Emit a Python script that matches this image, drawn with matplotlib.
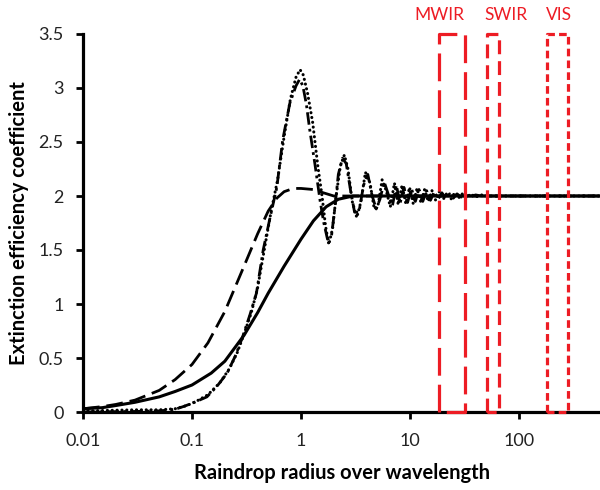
import matplotlib
matplotlib.use('Agg')
import matplotlib.pyplot as plt

plt.rcParams['font.family'] = ['Lato', 'DejaVu Sans']
plt.rcParams['lines.scale_dashes'] = False

# solid curve
x_solid = [0.01, 0.015, 0.02, 0.03, 0.05, 0.07, 0.1, 0.15, 0.2, 0.3, 0.4, 0.5, 0.7, 1.0, 1.3, 1.7, 2.2, 3.0, 4.0, 600]
y_solid = [0.03, 0.04, 0.06, 0.09, 0.14, 0.19, 0.25, 0.36, 0.47, 0.71, 0.92, 1.1, 1.35, 1.6, 1.77, 1.9, 1.97, 2.0, 2.0, 2.0]

# dashed curve
x_dash = [0.01, 0.015, 0.02, 0.03, 0.05, 0.07, 0.1, 0.14, 0.2, 0.3, 0.4, 0.5, 0.6, 0.7, 0.85, 1.0, 1.3, 1.6, 2.0, 3.0, 600]
y_dash = [0.03, 0.05, 0.07, 0.11, 0.2, 0.3, 0.44, 0.64, 0.93, 1.35, 1.65, 1.86, 1.98, 2.04, 2.07, 2.07, 2.06, 2.03, 2.0, 2.0, 2.0]

# dash-dot curve
x_dd = [0.01, 0.03, 0.05, 0.07, 0.083, 0.1, 0.137, 0.17, 0.21, 0.25, 0.29, 0.34, 0.39, 0.45, 0.52,
        0.6, 0.68, 0.79, 0.9, 0.97, 1.04, 1.12, 1.2, 1.34, 1.5, 1.62, 1.75, 1.9, 2.05, 2.2, 2.4,
        2.6, 2.85, 3.1, 3.4, 3.75, 4.1, 4.5, 4.9, 5.3, 5.8, 6.3, 6.9, 7.5, 8.1, 8.8, 9.5, 10.3,
        11.2, 12.1, 13.1, 14.2, 15.4, 16.7, 18.1, 19.6, 21.3, 23.1, 25, 27, 29.5, 32, 35, 40, 45, 600]
y_dd = [0.0, 0.005, 0.01, 0.025, 0.05, 0.08, 0.14, 0.24, 0.36, 0.52, 0.69, 0.9, 1.1, 1.5, 1.8,
        2.08, 2.52, 2.86, 3.02, 3.08, 3.02, 2.85, 2.62, 2.3, 1.95, 1.75, 1.6, 1.62, 1.9, 2.2, 2.35,
        2.3, 2.05, 1.85, 1.85, 2.1, 2.2, 2.0, 1.88, 1.97, 2.13, 2.02, 1.91, 2.1, 1.93, 2.08, 1.94, 2.07,
        1.95, 2.06, 1.95, 2.05, 1.96, 2.04, 1.97, 2.03, 1.98, 2.02, 1.98, 2.02, 1.99, 2.01, 1.99, 2.01, 2.0, 2.0]

# dotted curve
x_dot = [0.01, 0.03, 0.05, 0.07, 0.09, 0.11, 0.14, 0.18, 0.22, 0.26, 0.3, 0.35, 0.4, 0.46, 0.53,
         0.61, 0.7, 0.8, 0.9, 0.98, 1.05, 1.15, 1.28, 1.43, 1.56, 1.68, 1.8, 1.95, 2.1, 2.3, 2.5,
         2.7, 2.95, 3.25, 3.55, 3.9, 4.3, 4.7, 5.1, 5.55, 6.05, 6.6, 7.2, 7.8, 8.45, 9.15, 9.9, 10.7,
         11.6, 12.6, 13.6, 14.7, 15.9, 17.2, 18.6, 20.2, 21.9, 23.7, 25.7, 27.8, 30, 33, 36, 40, 45, 52, 600]
y_dot = [0.01, 0.02, 0.02, 0.03, 0.06, 0.1, 0.16, 0.27, 0.4, 0.55, 0.72, 0.92, 1.15, 1.5, 1.85,
         2.15, 2.55, 2.9, 3.1, 3.17, 3.12, 2.95, 2.68, 2.27, 2.0, 1.72, 1.55, 1.7, 2.0, 2.28, 2.38,
         2.25, 1.95, 1.8, 1.95, 2.22, 2.12, 1.88, 1.92, 2.15, 2.05, 1.9, 2.12, 1.92, 2.1, 1.93, 2.08, 1.93,
         2.07, 1.94, 2.06, 1.95, 2.05, 1.96, 2.04, 1.97, 2.03, 1.97, 2.03, 1.98, 2.02, 1.98, 2.02, 1.99, 2.01, 2.0, 2.0]

# spectral bands (x ranges) and where their labels sit
bands = ['MWIR', 'SWIR', 'VIS']
band_lo = [18.5, 51, 181]
band_hi = [32, 66, 282]
band_label_x = [18.5, 76, 233]
band_dash = [(20, 6.5), (10, 5), (5.5, 3)]

red = '#ed1c24'

fig = plt.figure(figsize=(6, 4.9), dpi=100)
ax = fig.add_axes([83/600, 78/490, 517/600, 378/490])

ax.plot(x_solid, y_solid, color='black', lw=2.2)
ax.plot(x_dash, y_dash, color='black', lw=2.0, dashes=(12, 5))
ax.plot(x_dd, y_dd, color='black', lw=2.0, dashes=(9, 3, 2, 3))
ax.plot(x_dot, y_dot, color='black', lw=2.2, dashes=(0.1, 3.4), dash_capstyle='round')

for name, lo, hi, lx, d in zip(bands, band_lo, band_hi, band_label_x, band_dash):
    ax.plot([lo, lo, hi, hi, lo], [0, 3.5, 3.5, 0, 0], color=red, lw=2.3,
            dashes=d, clip_on=False, zorder=5)
    ax.text(lx, 3.68, name, color=red, fontsize=12.5,
            ha='center', va='center')

ax.set_xscale('log')
ax.set_xlim(0.01, 10 ** (-2 + 517 / 109))
ax.set_ylim(0, 3.5)
ax.set_xticks([0.01, 0.1, 1, 10, 100])
ax.set_xticklabels(['0.01', '0.1', '1', '10', '100'])
ax.set_yticks([0, 0.5, 1, 1.5, 2, 2.5, 3, 3.5])
ax.set_yticklabels(['0', '0.5', '1', '1.5', '2', '2.5', '3', '3.5'])
ax.minorticks_off()

ax.spines['top'].set_visible(False)
ax.spines['right'].set_visible(False)
ax.spines['left'].set_linewidth(2.3)
ax.spines['bottom'].set_linewidth(2.3)
ax.tick_params(axis='both', length=5, width=2, labelsize=13, colors='black', labelcolor='#222222')
ax.tick_params(axis='y', pad=9)
ax.tick_params(axis='x', pad=10)

ax.set_xlabel('Raindrop radius over wavelength', fontsize=14.5, fontweight='bold', labelpad=10)
ax.set_ylabel('Extinction efficiency coefficient', fontsize=14.5, fontweight='bold', labelpad=7)

fig.savefig('out.png', dpi=100)
